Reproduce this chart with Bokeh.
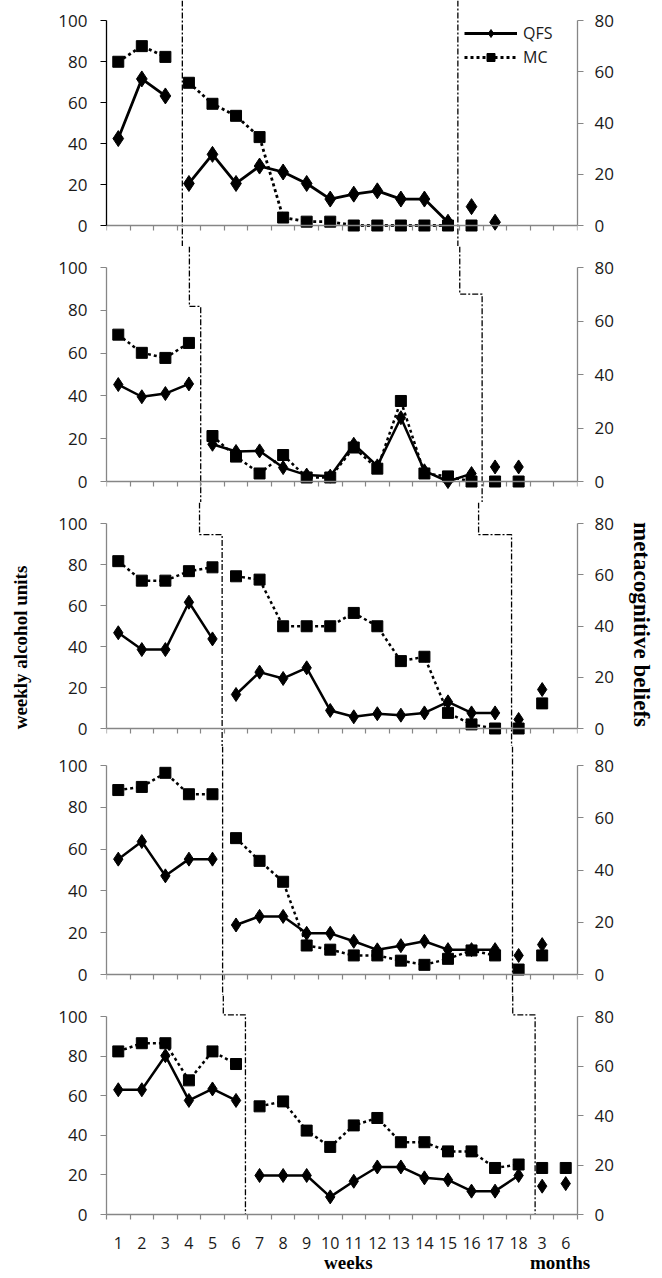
import numpy as np
from bokeh.plotting import figure
from bokeh.layouts import column, row
from bokeh.models import Range1d, LinearAxis, FixedTicker, Legend, LegendItem
from bokeh.core.properties import value
from bokeh.embed import file_html
from bokeh.resources import INLINE

# ---------------- data ----------------
weeks = list(range(1, 21))
x_labels = [str(i) for i in range(1, 19)] + ["3", "6"]
left_ticks = [0, 20, 40, 60, 80, 100]
right_ticks = [0, 20, 40, 60, 80]
period_titles = ["weeks", "months"]
period_title_pos = [10.77, 19.76]

qfs_1 = [42.4, 71.5, 63.2, 20.5, 34.7, 20.5, 29.0, 26.1, 20.5, 12.9, 15.3, 16.9, 12.9, 12.9, 1.6, 9.2, 1.6, None, None, None]
mc_1 = [63.9, 70.0, 65.8, 55.7, 47.5, 42.8, 34.5, 3.1, 1.5, 1.5, 0, 0, 0, 0, 0, 0, None, None, None, None]

qfs_2 = [45.3, 39.6, 41.1, 45.6, 17.4, 14.0, 14.3, 6.5, 3.0, 2.5, 17.4, 7.3, 29.8, 5.0, 0, 3.7, 6.8, 6.8, None, None]
mc_2 = [54.9, 48.1, 46.2, 51.8, 17.0, 9.3, 3.0, 9.9, 1.5, 1.5, 12.7, 4.8, 30.1, 3.0, 1.9, 0, 0, 0, None, None]

qfs_3 = [46.7, 38.5, 38.5, 61.6, 43.7, 16.6, 27.5, 24.4, 29.6, 8.8, 5.7, 7.2, 6.5, 7.6, 13.0, 7.6, 7.6, 4.4, 19.0, None]
mc_3 = [65.3, 57.7, 57.7, 61.4, 62.9, 59.4, 58.1, 39.9, 39.9, 39.9, 45.1, 39.9, 26.3, 28.0, 6.1, 1.6, 0, 0, 9.8, None]

qfs_4 = [55.2, 63.6, 47.2, 55.2, 55.2, 23.7, 27.8, 27.8, 19.7, 19.7, 15.9, 11.8, 13.8, 15.9, 11.9, 11.9, 11.9, 9.1, 14.3, None]
mc_4 = [70.6, 71.8, 77.2, 69.0, 69.0, 52.2, 43.5, 35.5, 11.1, 9.5, 7.3, 7.3, 5.3, 3.7, 6.0, 9.2, 7.3, 1.9, 7.3, None]

qfs_5 = [63.0, 63.0, 80.2, 57.6, 63.4, 57.6, 19.7, 19.7, 19.7, 8.9, 16.8, 24.0, 24.0, 18.5, 17.5, 11.8, 11.8, 19.7, 14.3, 15.6]
mc_5 = [65.9, 69.2, 69.2, 54.2, 65.9, 60.8, 43.7, 45.7, 33.9, 27.3, 36.0, 39.0, 29.2, 29.2, 25.5, 25.5, 18.8, 20.2, 18.8, 18.8]

baseline_end = [3, 4, 5, 5, 6]
treatment_end = [15, 16, 17, 17, 18]

# phase-change lines (category positions) and step levels (left-axis units)
phase1_upper = [3.72, 4.02, 4.45, 5.43, 5.46]
phase1_lower = [3.72, 4.50, 5.41, 5.43, 6.40]
phase1_step = [None, 81.8, 94.6, None, 100.8]
phase2_upper = [15.42, 15.50, 16.30, 17.74, 17.75]
phase2_lower = [15.42, 16.45, 17.70, 17.74, 18.70]
phase2_step = [None, 87.6, 94.6, None, 100.8]

qfs_all = [qfs_1, qfs_2, qfs_3, qfs_4, qfs_5]
mc_all = [mc_1, mc_2, mc_3, mc_4, mc_5]

# ---------------- layout geometry (page px) ----------------
TOTAL_H = 1276
TITLE_W = 34
fig_top = [0, 246, 502, 746, 995]
fig_bot = [246, 502, 746, 995, TOTAL_H]
y100_px = [20, 267, 523, 765, 1016]
y0_px = [225, 481, 728, 974, 1214]
xl_px = [106, 97, 98, 97, 97]
xr_px = [577, 577, 583, 583, 582]
W = 662 - TITLE_W
left_title_center_px = 647

GRAY = "#868686"
TICK_FONT = "Open Sans"
SERIF = "Liberation Serif"


def line_arrays(vals, b_end, t_end):
    xs, ys = [], []
    for i, v in enumerate(vals, start=1):
        if i > t_end:
            break
        if i == b_end + 1:
            xs.append(np.nan)
            ys.append(np.nan)
        xs.append(i)
        ys.append(np.nan if v is None else v)
    return np.array(xs, float), np.array(ys, float)


def point_arrays(vals):
    xs = [i for i, v in enumerate(vals, start=1) if v is not None]
    ys = [v for v in vals if v is not None]
    return xs, ys


def style_y(ax, color):
    ax.axis_line_color = color
    ax.major_tick_line_color = color
    ax.axis_line_width = 1.3
    ax.major_tick_out = 6
    ax.major_tick_in = 0
    ax.minor_tick_out = 0
    ax.minor_tick_in = 0
    ax.major_label_text_font = TICK_FONT
    ax.major_label_text_font_size = "17px"
    ax.major_label_text_color = "#1a1a1a"


figs = []
for k in range(5):
    last = (k == 4)
    frame_bottom = y0_px[k] if last else fig_bot[k]
    scale = (y0_px[k] - y100_px[k]) / 100.0
    ystart = -(frame_bottom - y0_px[k]) / scale
    yend = 100 + (y100_px[k] - fig_top[k]) / scale

    p = figure(width=W, height=fig_bot[k] - fig_top[k],
               x_range=Range1d(0.5, 20.5), y_range=Range1d(ystart, yend),
               x_axis_location=None, y_axis_location=None,
               toolbar_location=None, output_backend="svg",
               min_border_left=xl_px[k] - TITLE_W, min_border_right=662 - xr_px[k],
               min_border_top=0, min_border_bottom=fig_bot[k] - frame_bottom)
    p.extra_y_ranges = {"mc": Range1d(ystart * 0.8, yend * 0.8)}
    p.outline_line_color = None
    p.background_fill_color = "white"
    p.border_fill_color = "white"
    p.xgrid.visible = False
    p.ygrid.visible = False

    # left axis
    yl = LinearAxis(ticker=FixedTicker(ticks=left_ticks), bounds=(0, 100))
    style_y(yl, "black" if k == 0 else GRAY)
    yl.major_label_standoff = 13
    p.add_layout(yl, "left")

    # right axis (metacognitive beliefs)
    yr = LinearAxis(y_range_name="mc", ticker=FixedTicker(ticks=right_ticks), bounds=(0, 80))
    style_y(yr, GRAY)
    yr.major_label_standoff = 11
    if k == 2:
        yr.axis_label = "metacognitive beliefs"
        yr.axis_label_text_font = SERIF
        yr.axis_label_text_font_style = "bold"
        yr.axis_label_text_font_size = "23px"
        yr.axis_label_text_color = "black"
        yr.axis_label_standoff = 12
    p.add_layout(yr, "right")

    # x axis
    boundaries = [w - 0.5 for w in weeks] + [weeks[-1] + 0.5]
    if last:
        xa = LinearAxis(ticker=FixedTicker(ticks=weeks, minor_ticks=boundaries))
        xa.major_label_overrides = {w: lab for w, lab in zip(weeks, x_labels)}
        xa.major_tick_out = 0
        xa.major_tick_in = 0
        xa.major_label_standoff = 17
        xa.major_label_text_font = TICK_FONT
        xa.major_label_text_font_size = "16px"
        xa.major_label_text_color = "#1a1a1a"
    else:
        xa = LinearAxis(ticker=FixedTicker(ticks=[], minor_ticks=boundaries), fixed_location=0)
        xa.major_tick_out = 0
        xa.major_tick_in = 0
    xa.minor_tick_out = 5
    xa.minor_tick_in = 0
    xa.minor_tick_line_color = GRAY
    xa.minor_tick_line_width = 1.2
    xa.axis_line_color = GRAY
    xa.axis_line_width = 1.3
    p.add_layout(xa, "below")

    if last:
        # "weeks" / "months" titles under the tick labels
        xt = LinearAxis(ticker=FixedTicker(ticks=period_title_pos))
        xt.major_label_overrides = {pos: t for pos, t in zip(period_title_pos, period_titles)}
        xt.axis_line_color = None
        xt.major_tick_line_color = None
        xt.minor_tick_line_color = None
        xt.major_tick_out = 0
        xt.major_tick_in = 0
        xt.minor_tick_out = 0
        xt.minor_tick_in = 0
        xt.major_label_standoff = 0
        xt.major_label_text_font = SERIF
        xt.major_label_text_font_style = "bold"
        xt.major_label_text_font_size = "19px"
        xt.major_label_text_color = "black"
        p.add_layout(xt, "below")

    # phase change lines
    bottom_val = 0 if last else ystart
    for up, low, st in ((phase1_upper[k], phase1_lower[k], phase1_step[k]),
                        (phase2_upper[k], phase2_lower[k], phase2_step[k])):
        if st is None:
            px_, py_ = [up, low], [yend, bottom_val]
        else:
            px_, py_ = [up, up, low, low], [yend, st, st, bottom_val]
        p.line(px_, py_, line_color="black", line_width=1.3, line_dash="6 2 2 2")

    # series
    qfs = qfs_all[k]
    mc = mc_all[k]
    dsize = 16 if k == 0 else 14
    lw = 2.8 if k == 0 else 2.5

    mx, my = line_arrays(mc, baseline_end[k], treatment_end[k])
    mc_line = p.line(mx, my, y_range_name="mc", line_color="black", line_width=lw, line_dash="3 3")
    sx, sy = point_arrays(mc)
    mc_pts = p.scatter(sx, sy, y_range_name="mc", marker="square", size=11,
                       fill_color="black", line_color="black")

    qx, qy = line_arrays(qfs, baseline_end[k], treatment_end[k])
    q_line = p.line(qx, qy, line_color="black", line_width=lw)
    sx, sy = point_arrays(qfs)
    q_pts = p.scatter(sx, sy, marker="diamond", size=dsize, fill_color="black", line_color="black")

    if k == 0:
        legend = Legend(items=[LegendItem(label="QFS", renderers=[q_line, q_pts]),
                               LegendItem(label="MC", renderers=[mc_line, mc_pts])],
                        location="top_right", glyph_width=53, glyph_height=20,
                        label_standoff=6, label_width=32, spacing=2, padding=0, margin=22,
                        border_line_color=None, background_fill_alpha=0,
                        label_text_font=TICK_FONT, label_text_font_size="16px",
                        label_text_color="#1a1a1a")
        p.add_layout(legend)
    figs.append(p)

# left strip carrying the y-axis title "weekly alcohol units"
t = figure(width=TITLE_W, height=TOTAL_H, x_range=Range1d(0, 1), y_range=Range1d(TOTAL_H, 0),
           x_axis_location=None, y_axis_location=None, toolbar_location=None,
           output_backend="svg", min_border=0)
t.outline_line_color = None
t.xgrid.visible = False
t.ygrid.visible = False
t.text(x=[0.6], y=[left_title_center_px], text=["weekly alcohol units"], angle=np.pi / 2,
       text_font=value(SERIF), text_font_style="bold", text_font_size="19px",
       text_align="center", text_baseline="middle", text_color="black")

layout = row(t, column(*figs, spacing=0), spacing=0)
open("out.html", "w").write(file_html(layout, INLINE))
